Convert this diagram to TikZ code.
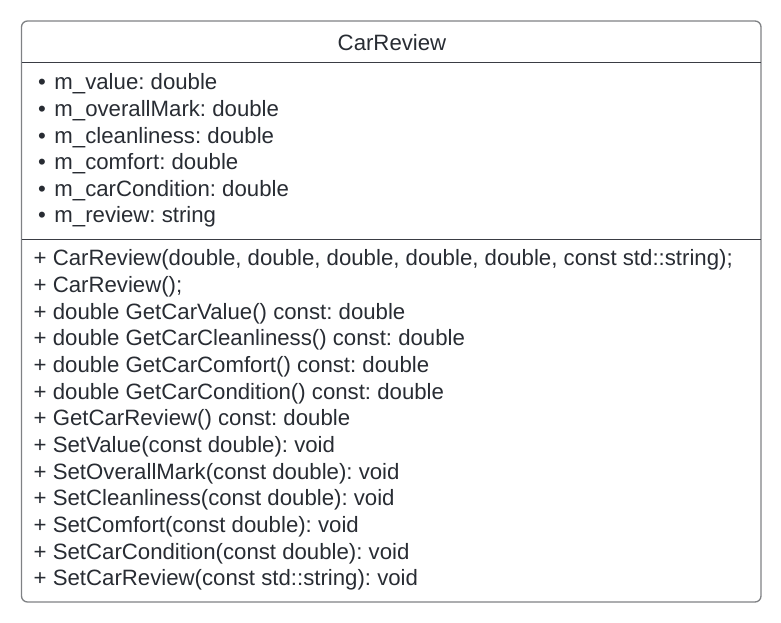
\documentclass[tikz,border=0pt]{standalone}
\usepackage{fontspec}
\setmainfont{Liberation Sans}
\frenchspacing
\definecolor{txt}{HTML}{282C33}
\definecolor{frame}{HTML}{7F8184}
\definecolor{sep}{HTML}{3A3D44}
\begin{document}
\begin{tikzpicture}[x=1pt,y=1pt,
  lbl/.style={anchor=west,inner sep=0pt,text=txt,font=\fontsize{22.2}{24}\selectfont},
  ttl/.style={inner sep=0pt,text=txt,font=\fontsize{22.2}{24}\selectfont}]
\useasboundingbox (0,0) rectangle (781,622);
\draw[frame,line width=1.3pt,rounded corners=6pt] (21.5,20) rectangle (761,601);
\coordinate (s1l) at (21.5,559);
\coordinate (s1r) at (761,559);
\coordinate (s2l) at (21.5,382);
\coordinate (s2r) at (761,382);
\draw[sep,line width=1pt] (s1l) -- (s1r);
\draw[sep,line width=1pt] (s2l) -- (s2r);
\node[ttl] (title) at (392,579.5) {CarReview};
\foreach \t [count=\i] in {m\_value: double,m\_overallMark: double,m\_cleanliness: double,m\_comfort: double,m\_carCondition: double,m\_review: string}{
  \node[lbl] (a\i) at (38,622-84-26.6*\i+26.6) {•\hspace{8.5pt}\t};
}
\node[lbl] (m1) at (33.5,622-260) {+ CarReview(double, double, double, double, double, const std::string);};
\node[lbl] (m2) at (33.5,622-286.67) {+ CarReview();};
\node[lbl] (m3) at (33.5,622-313.33) {+ double GetCarValue() const: double};
\node[lbl] (m4) at (33.5,622-340) {+ double GetCarCleanliness() const: double};
\node[lbl] (m5) at (33.5,622-366.67) {+ double GetCarComfort() const: double};
\node[lbl] (m6) at (33.5,622-393.33) {+ double GetCarCondition() const: double};
\node[lbl] (m7) at (33.5,622-420) {+ GetCarReview() const: double};
\node[lbl] (m8) at (33.5,622-446.67) {+ SetValue(const double): void};
\node[lbl] (m9) at (33.5,622-473.33) {+ SetOverallMark(const double): void};
\node[lbl] (m10) at (33.5,622-500) {+ SetCleanliness(const double): void};
\node[lbl] (m11) at (33.5,622-526.67) {+ SetComfort(const double): void};
\node[lbl] (m12) at (33.5,622-553.33) {+ SetCarCondition(const double): void};
\node[lbl] (m13) at (33.5,622-580) {+ SetCarReview(const std::string): void};
\end{tikzpicture}
\end{document}
